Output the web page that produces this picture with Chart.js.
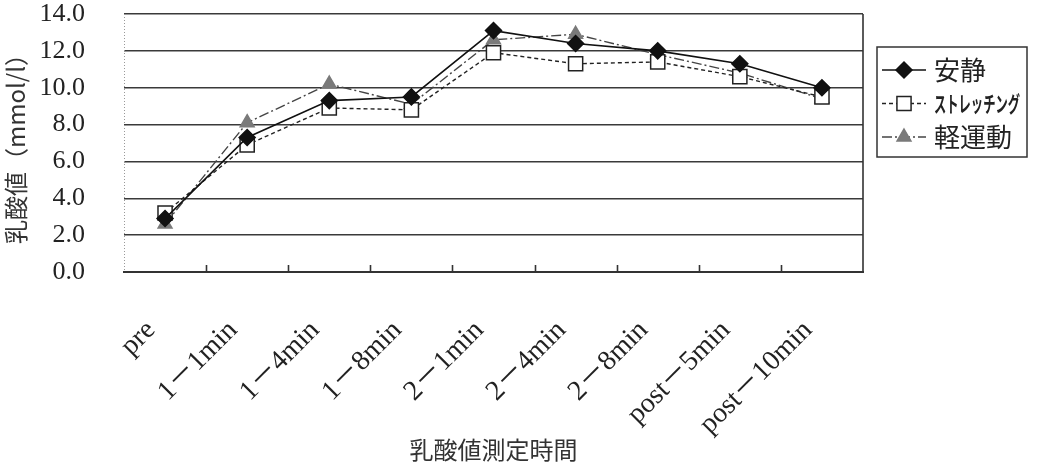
<!DOCTYPE html>
<html lang="ja">
<head>
<meta charset="utf-8">
<title>乳酸値測定時間</title>
<script src="https://cdn.jsdelivr.net/npm/chart.js@4/dist/chart.umd.min.js"></script>
<style>
	html, body { margin: 0; padding: 0; background: #fff; }
	#wrap { width: 1046px; height: 473px; position: relative; }
</style>
</head>
<body>
<div id="wrap"><canvas id="lactate"></canvas></div>
<script>
const labels = ['pre', '1－1min', '1－4min', '1－8min', '2－1min', '2－4min', '2－8min', 'post－5min', 'post－10min'];
const restValues = [2.9, 7.3, 9.3, 9.5, 13.1, 12.4, 12.0, 11.3, 10.0];
const stretchValues = [3.2, 6.9, 8.9, 8.8, 11.9, 11.3, 11.4, 10.6, 9.5];
const lightValues = [2.6, 8.1, 10.2, 9.1, 12.6, 12.9, 11.8, 10.8, 9.4];
const seriesNames = ['安静', 'ストレッチング', '軽運動'];
const yTicks = [0, 2, 4, 6, 8, 10, 12, 14];

(function () {
	'use strict';

	const SERIF = '"Liberation Serif", "Noto Sans CJK JP", serif';
	const CJK = '"Noto Sans CJK JP", sans-serif';

	const styles = [
		{ borderColor: '#111', borderWidth: 1.6, borderDash: [], pointStyle: 'rectRot', pointRadius: 8, pointBackgroundColor: '#111', pointBorderColor: '#111' },
		{ borderColor: '#222', borderWidth: 1.4, borderDash: [4, 3], pointStyle: 'rect', pointRadius: 10, pointBackgroundColor: '#fff', pointBorderColor: '#222' },
		{ borderColor: '#444', borderWidth: 1.4, borderDash: [10, 3, 2, 3], pointStyle: 'triangle', pointRadius: 8, pointBackgroundColor: '#7a7a7a', pointBorderColor: '#7a7a7a' },
	];

	// frame edges, inner x ticks and the boxed legend
	const frame = {
		id: 'frame',
		afterDraw(chart) {
			const { ctx, chartArea: a, scales: { x } } = chart;
			ctx.save();
			ctx.strokeStyle = '#999';
			ctx.lineWidth = 1;
			ctx.setLineDash([1, 2]);
			ctx.beginPath();
			ctx.moveTo(a.left + 0.5, a.top);
			ctx.lineTo(a.left + 0.5, a.bottom);
			ctx.stroke();
			ctx.setLineDash([]);

			ctx.strokeStyle = '#333';
			ctx.lineWidth = 1.6;
			ctx.beginPath();
			ctx.moveTo(a.right, a.top);
			ctx.lineTo(a.right, a.bottom);
			for (let i = 1; i < labels.length; i++) {
				const px = Math.round(x.getPixelForValue(i - 0.5)) + 0.5;
				ctx.moveTo(px, a.bottom);
				ctx.lineTo(px, a.bottom - 7);
			}
			ctx.stroke();

			const bx = a.right + 14, by = 47, bw = 150, bh = 110;
			ctx.lineWidth = 1.5;
			ctx.strokeRect(bx, by, bw, bh);
			chart.data.datasets.forEach((ds, i) => {
				const cy = by + 23 + i * 33.5;
				ctx.strokeStyle = ds.borderColor;
				ctx.lineWidth = ds.borderWidth;
				ctx.setLineDash(ds.borderDash);
				ctx.beginPath();
				ctx.moveTo(bx + 5, cy);
				ctx.lineTo(bx + 49, cy);
				ctx.stroke();
				ctx.setLineDash([]);
				ctx.fillStyle = ds.pointBackgroundColor;
				ctx.strokeStyle = ds.pointBorderColor;
				ctx.lineWidth = 1.5;
				Chart.helpers.drawPoint(ctx, { pointStyle: ds.pointStyle, radius: ds.pointRadius, rotation: 0, borderWidth: 1.5 }, bx + 27, cy);
				ctx.fillStyle = '#222';
				ctx.textBaseline = 'middle';
				ctx.font = (i === 1 ? 'bold 22px ' : '26px ') + CJK;
				ctx.fillText(ds.label, bx + 57, cy, 86);
			});
			ctx.restore();
		},
	};

	new Chart(document.getElementById('lactate'), {
		type: 'line',
		data: {
			labels,
			datasets: [restValues, stretchValues, lightValues].map((data, i) => Object.assign({
				label: seriesNames[i],
				data,
				fill: false,
				tension: 0,
				pointBorderWidth: 1.5,
			}, styles[i])),
		},
		options: {
			responsive: true,
			maintainAspectRatio: false,
			animation: false,
			layout: { padding: { top: 14, right: 183, left: 0, bottom: 0 } },
			plugins: { legend: { display: false }, tooltip: { enabled: false } },
			scales: {
				x: {
					offset: true,
					grid: { display: false },
					border: { display: true, color: '#333', width: 2 },
					ticks: { color: '#222', font: { family: SERIF, size: 28 }, minRotation: 45, maxRotation: 45, autoSkip: false, padding: 34, labelOffset: -14 },
					title: { display: true, text: '乳酸値測定時間', color: '#333', font: { family: CJK, size: 24 }, padding: { top: 0, bottom: 9 } },
					afterFit(s) { s.height = 201; s.paddingLeft = 0; s.paddingRight = 0; },
				},
				y: {
					min: 0,
					max: 14,
					afterBuildTicks(s) { s.ticks = yTicks.map((v) => ({ value: v })); },
					grid: { color: '#3a3a3a', lineWidth: 1.5, drawTicks: false },
					border: { display: false },
					ticks: { color: '#222', font: { family: SERIF, size: 26 }, padding: 39, autoSkip: false, callback: (v) => Number(v).toFixed(1) },
					title: { display: true, text: '乳酸値（mmol/l）', color: '#333', font: { family: CJK, size: 24 }, padding: { top: 1, bottom: 0 } },
					afterFit(s) { s.width = 124; s.paddingTop = 0; s.paddingBottom = 0; },
				},
			},
		},
		plugins: [frame],
	});
})();
</script>
</body>
</html>
